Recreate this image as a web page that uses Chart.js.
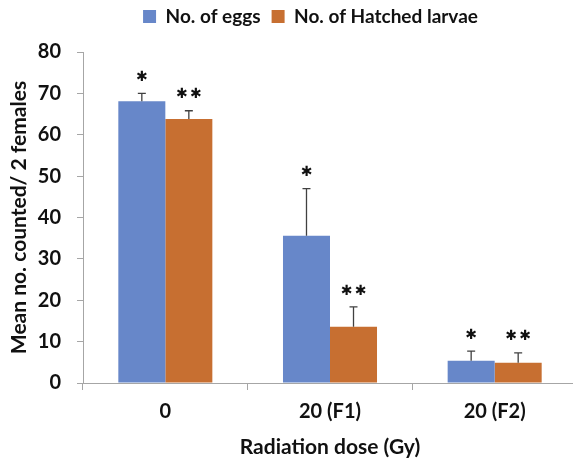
<!DOCTYPE html>
<html>
<head>
<meta charset="utf-8">
<script src="https://cdn.jsdelivr.net/npm/chart.js@4/dist/chart.umd.min.js"></script>
<style>
html,body{margin:0;padding:0;background:#fff;overflow:hidden;}
#wrap{width:573px;height:460px;overflow:hidden;position:relative;}
canvas{display:block;}
</style>
</head>
<body>
<div id="wrap"><canvas id="c" width="580" height="460"></canvas></div>
<script>
const categories = ['0', '20 (F1)', '20 (F2)'];
const eggs = [68.1, 35.6, 5.4];
const eggsErr = [1.9, 11.4, 2.3];
const larvae = [63.8, 13.6, 4.9];
const larvaeErr = [2.0, 4.8, 2.4];
const eggsSig = ['*', '*', '*'];
const larvaeSig = ['**', '**', '**'];
const yTicks = [0, 10, 20, 30, 40, 50, 60, 70, 80];

const BLUE = '#6787C9';
const ORANGE = '#C76F31';
const AXIS = '#A6A6A6';
const FONT = 'Lato';

const errorPlugin = {
  id: 'errs',
  afterLayout(chart) {
    const lg = chart.legend;
    if (lg) { lg.top -= 16; lg.bottom -= 16; lg.left += 22; lg.right += 22; }
  },
  afterDatasetsDraw(chart) {
    const ctx = chart.ctx;
    const y = chart.scales.y;
    chart.data.datasets.forEach((ds, i) => {
      const meta = chart.getDatasetMeta(i);
      meta.data.forEach((bar, j) => {
        const v = ds.data[j], e = ds.errors[j];
        const yTop = y.getPixelForValue(v + e);
        const yBar = y.getPixelForValue(v);
        ctx.save();
        ctx.strokeStyle = '#404040';
        ctx.lineWidth = 1.3;
        ctx.beginPath();
        ctx.moveTo(bar.x, yBar);
        ctx.lineTo(bar.x, yTop);
        ctx.moveTo(bar.x - 4, yTop);
        ctx.lineTo(bar.x + 4, yTop);
        ctx.stroke();
        const sig = ds.sig[j];
        ctx.fillStyle = '#111';
        ctx.font = 'bold 14px "DejaVu Sans"';
        ctx.textAlign = 'center';
        ctx.textBaseline = 'middle';
        const n = sig.length, gap = 14;
        for (let k = 0; k < n; k++) {
          const cx = bar.x + (k - (n - 1) / 2) * gap;
          ctx.fillText('\u2731', cx, yTop - 16);
        }
        ctx.restore();
      });
    });
  }
};

new Chart(document.getElementById('c'), {
  type: 'bar',
  data: {
    labels: categories,
    datasets: [
      { label: 'No. of eggs', data: eggs, errors: eggsErr, sig: eggsSig,
        backgroundColor: BLUE, borderWidth: 0,
        categoryPercentage: 0.571, barPercentage: 1.0 },
      { label: 'No. of Hatched larvae', data: larvae, errors: larvaeErr, sig: larvaeSig,
        backgroundColor: ORANGE, borderWidth: 0,
        categoryPercentage: 0.571, barPercentage: 1.0 }
    ]
  },
  options: {
    responsive: false,
    animation: false,
    devicePixelRatio: 1,
    layout: { padding: { left: 0, right: 3, top: 12, bottom: 0 } },
    plugins: {
      legend: {
        position: 'top',
        maxHeight: 52,
        labels: {
          boxWidth: 13, boxHeight: 13, padding: 11, color: '#111',
          font: { family: FONT, size: 19, weight: 'bold' }
        }
      },
      tooltip: { enabled: false }
    },
    scales: {
      x: {
        grid: { display: true, drawOnChartArea: false, drawTicks: true, tickLength: 7, color: AXIS, offset: true },
        border: { color: AXIS, width: 1 },
        ticks: { color: '#111', padding: 10, font: { family: FONT, size: 20, weight: 'bold' } },
        title: { display: true, text: 'Radiation dose (Gy)', color: '#111',
                 padding: { top: 0, bottom: 0 }, font: { family: FONT, size: 21, weight: 'bold' } },
        afterFit(s) { s.height = 77; }
      },
      y: {
        min: 0, max: 80,
        afterBuildTicks(s) { s.ticks = yTicks.map(v => ({ value: v })); },
        grid: { display: true, drawOnChartArea: false, drawTicks: true, tickLength: 6, color: AXIS },
        border: { color: AXIS, width: 1 },
        ticks: { color: '#111', padding: 16, font: { family: FONT, size: 20, weight: 'bold' } },
        title: { display: true, text: 'Mean no. counted/ 2 females', color: '#111',
                 padding: { top: 7, bottom: 0 }, font: { family: FONT, size: 21, weight: 'bold' } },
        afterFit(s) { s.width = 83; }
      }
    }
  },
  plugins: [errorPlugin]
});
</script>
</body>
</html>
